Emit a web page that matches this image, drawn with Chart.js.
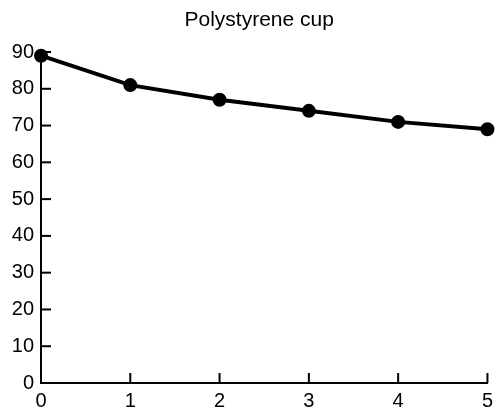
<!DOCTYPE html>
<html>
<head>
<meta charset="utf-8">
<script src="https://cdn.jsdelivr.net/npm/chart.js@4"></script>
<style>
  html, body { margin: 0; padding: 0; background: #fff; }
  #wrap { width: 499px; height: 412px; }
</style>
</head>
<body>
<div id="wrap"><canvas id="cupChart"></canvas></div>
<script>
const chartTitle = "Polystyrene cup";
const hours = ["0", "1", "2", "3", "4", "5"];
const temps = [89, 81, 77, 74, 71, 69];
const yTicks = [0, 10, 20, 30, 40, 50, 60, 70, 80, 90];

const FONT = "Liberation Sans, Arial, sans-serif";

// short tick marks pointing into the plot, plus title over the plot area
const innerTicks = {
    id: "innerTicks",
    afterDraw(chart) {
        const ctx = chart.ctx;
        const x = chart.scales.x;
        const y = chart.scales.y;
        ctx.save();
        ctx.strokeStyle = "#000";
        ctx.lineWidth = 2;
        y.ticks.forEach((t, i) => {
            if (i === 0) return;
            const py = y.getPixelForTick(i);
            ctx.beginPath();
            ctx.moveTo(x.left, py);
            ctx.lineTo(x.left + 10, py);
            ctx.stroke();
        });
        x.ticks.forEach((t, i) => {
            if (i === 0) return;
            const px = x.getPixelForTick(i);
            ctx.beginPath();
            ctx.moveTo(px, y.bottom);
            ctx.lineTo(px, y.bottom - 10);
            ctx.stroke();
        });

        ctx.fillStyle = "#000";
        ctx.font = "21px " + FONT;
        ctx.textAlign = "center";
        ctx.textBaseline = "middle";
        ctx.fillText(chartTitle, (chart.chartArea.left + chart.chartArea.right) / 2 - 5, 20);
        ctx.restore();
    }
};

new Chart("cupChart", {
    type: "line",
    data: {
        labels: hours,
        datasets: [{
            data: temps,
            borderColor: "#000",
            backgroundColor: "#000",
            borderWidth: 4,
            pointRadius: 5,
            pointBackgroundColor: "#000",
            pointBorderColor: "#000",
            clip: false,
            tension: 0
        }]
    },
    options: {
        responsive: true,
        maintainAspectRatio: false,
        animation: false,
        layout: { padding: { top: 52, right: 11, left: 0, bottom: 0 } },
        plugins: {
            legend: { display: false },
            tooltip: { enabled: false },
            title: { display: false }
        },
        scales: {
            x: {
                type: "category",
                offset: false,
                grid: { display: false, drawTicks: false },
                border: { display: true, color: "#000", width: 2 },
                ticks: {
                    color: "#000",
                    padding: 6,
                    maxRotation: 0,
                    font: { family: FONT, size: 20 }
                },
                afterFit(scale) { scale.height = 29; }
            },
            y: {
                min: 0,
                max: 90,
                afterBuildTicks(scale) { scale.ticks = yTicks.map(v => ({ value: v })); },
                grid: { display: false, drawTicks: false },
                border: { display: true, color: "#000", width: 2 },
                ticks: {
                    color: "#000",
                    padding: 7,
                    font: { family: FONT, size: 20 }
                },
                afterFit(scale) { scale.width = 41; }
            }
        }
    },
    plugins: [innerTicks]
});
</script>
</body>
</html>
